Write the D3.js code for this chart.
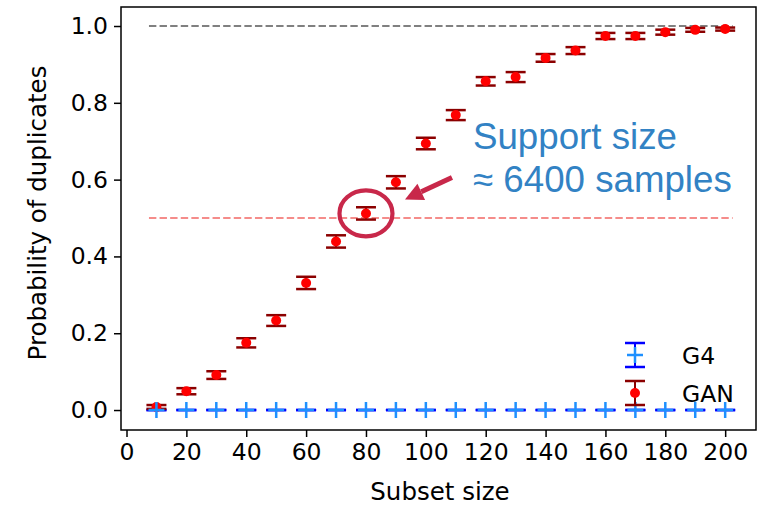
<!DOCTYPE html>
<html>
<head>
<meta charset="utf-8">
<script src="https://cdn.jsdelivr.net/npm/d3@7"></script>
<style>
    body { margin: 0; background: #fff; }
    text { font-family: "DejaVu Sans", sans-serif; }
</style>
</head>
<body>
<div id="chart"></div>
<script>
// subset sizes (x)
const subsetSizes = [10, 20, 30, 40, 50, 60, 70, 80, 90, 100, 110, 120, 130, 140, 150, 160, 170, 180, 190, 200];

// GAN: probability of duplicates + error
const ganProb = [0.008, 0.049, 0.091, 0.175, 0.233, 0.331, 0.439, 0.512, 0.593, 0.694, 0.768, 0.856, 0.867, 0.917, 0.936, 0.974, 0.974, 0.984, 0.990, 0.992];
const ganErr  = [0.005, 0.008, 0.010, 0.012, 0.014, 0.016, 0.016, 0.016, 0.016, 0.015, 0.013, 0.011, 0.013, 0.010, 0.009, 0.008, 0.008, 0.0065, 0.005, 0.004];

// G4: never any duplicates
const g4Prob = [0, 0, 0, 0, 0, 0, 0, 0, 0, 0, 0, 0, 0, 0, 0, 0, 0, 0, 0, 0];
const g4Err  = [0, 0, 0, 0, 0, 0, 0, 0, 0, 0, 0, 0, 0, 0, 0, 0, 0, 0, 0, 0];

const xTicks = [0, 20, 40, 60, 80, 100, 120, 140, 160, 180, 200];
const yTicks = [0.0, 0.2, 0.4, 0.6, 0.8, 1.0];

// reference lines: [y, x start, x end]
const refLines = [
    { y: 1.0, x0: 7.5, x1: 202.5, color: "#808080" },
    { y: 0.5, x0: 7.5, x1: 202.5, color: "#f58c8a" }
];

const annotationLines = ["Support size", "\u2248 6400 samples"];
const highlightSize = 80;

let margin = { top: 7, right: 13, bottom: 77, left: 121 };
let width = 769 - margin.left - margin.right;
let height = 507 - margin.top - margin.bottom;

let svg = d3.select("#chart")
    .append("svg")
    .attr("width", 769)
    .attr("height", 507)
    .append("g")
    .attr("transform", `translate(${margin.left}, ${margin.top})`);

let x = d3.scaleLinear().domain([-1.84, 210.3]).range([0, width]);
let y = d3.scaleLinear().domain([-0.052, 1.0495]).range([height, 0]);

let gan = subsetSizes.map((s, i) => ({ s, p: ganProb[i], e: ganErr[i] }));
let g4 = subsetSizes.map((s, i) => ({ s, p: g4Prob[i], e: g4Err[i] }));

// dashed reference lines
svg.selectAll(".ref")
    .data(refLines)
    .enter()
    .append("line")
    .attr("x1", d => x(d.x0))
    .attr("x2", d => x(d.x1))
    .attr("y1", d => y(d.y))
    .attr("y2", d => y(d.y))
    .attr("stroke", d => d.color)
    .attr("stroke-width", 2.2)
    .attr("stroke-dasharray", "7.4,3.2");

// error bar helper
function errorBars(data, cls, color, capHalf) {
    let g = svg.append("g").attr("class", cls);
    g.selectAll("line.v")
        .data(data).enter().append("line")
        .attr("x1", d => x(d.s)).attr("x2", d => x(d.s))
        .attr("y1", d => y(d.p - d.e)).attr("y2", d => y(d.p + d.e))
        .attr("stroke", color).attr("stroke-width", 2);
    [-1, 1].forEach(sign => {
        g.selectAll("line.c" + sign)
            .data(data).enter().append("line")
            .attr("x1", d => x(d.s) - capHalf).attr("x2", d => x(d.s) + capHalf)
            .attr("y1", d => y(d.p + sign * d.e)).attr("y2", d => y(d.p + sign * d.e))
            .attr("stroke", color).attr("stroke-width", 2.5);
    });
}

// G4 error bars + plus markers
errorBars(g4, "g4-err", "#0000ff", 10);
function plus(sel, cx, cy) {
    sel.append("path")
        .attr("d", `M${cx - 8},${cy}H${cx + 8}M${cx},${cy - 8}V${cy + 8}`)
        .attr("stroke", "#1e90ff").attr("stroke-width", 2.5).attr("fill", "none");
}

// GAN error bars + dots
errorBars(gan, "gan-err", "#8b0000", 10);
svg.selectAll(".gan-dot")
    .data(gan).enter().append("circle")
    .attr("class", "gan-dot")
    .attr("cx", d => x(d.s)).attr("cy", d => y(d.p))
    .attr("r", 5).attr("fill", "#ff0000");

g4.forEach(d => plus(svg, x(d.s), y(d.p)));

// axes
let xAxis = svg.append("g")
    .attr("transform", `translate(0, ${height})`)
    .call(d3.axisBottom(x).tickValues(xTicks).tickSize(7).tickPadding(6));
let yAxis = svg.append("g")
    .call(d3.axisLeft(y).tickValues(yTicks).tickFormat(d3.format(".1f")).tickSize(7).tickPadding(6));
[xAxis, yAxis].forEach(a => {
    a.select(".domain").remove();
    a.selectAll("line").attr("stroke", "#000").attr("stroke-width", 1.5);
    a.selectAll("text").attr("fill", "#000").style("font-size", "23.5px").style("font-family", "DejaVu Sans");
});

// frame
svg.append("rect")
    .attr("width", width).attr("height", height)
    .attr("fill", "none").attr("stroke", "#000").attr("stroke-width", 1.5);

// axis labels
svg.append("text")
    .attr("text-anchor", "middle")
    .attr("x", 440 - margin.left)
    .attr("y", height + 70)
    .style("font-size", "24.5px")
    .text("Subset size");

svg.append("text")
    .attr("text-anchor", "middle")
    .attr("transform", `translate(${46 - margin.left}, ${213 - margin.top}) rotate(-90)`)
    .style("font-size", "24.5px")
    .text("Probability of duplicates");

// legend
let lg = svg.append("g").attr("transform", `translate(${635 - margin.left}, 0)`);
let legendRows = [
    { label: "G4", cy: 355 - margin.top, color: "#0000ff" },
    { label: "GAN", cy: 393 - margin.top, color: "#8b0000" }
];
legendRows.forEach((r, i) => {
    lg.append("line").attr("x1", 0).attr("x2", 0).attr("y1", r.cy - 12).attr("y2", r.cy + 12)
        .attr("stroke", r.color).attr("stroke-width", 2);
    [-12, 12].forEach(o => lg.append("line")
        .attr("x1", -10).attr("x2", 10).attr("y1", r.cy + o).attr("y2", r.cy + o)
        .attr("stroke", r.color).attr("stroke-width", 2.5));
    if (i === 0) plus(lg, 0, r.cy);
    else lg.append("circle").attr("cx", 0).attr("cy", r.cy).attr("r", 5).attr("fill", "#ff0000");
    lg.append("text")
        .attr("x", 47).attr("y", r.cy + 9)
        .style("font-size", "23.5px")
        .text(r.label);
});

// annotation: circle around the 50% point, arrow and note
let hp = gan.find(d => d.s === highlightSize);
let hx = x(hp.s), hy = y(hp.p);
svg.append("ellipse")
    .attr("cx", hx).attr("cy", hy)
    .attr("rx", 26.5).attr("ry", 23)
    .attr("fill", "none").attr("stroke", "#c8284a").attr("stroke-width", 4.2);

let tail = [hx + 86, hy - 36], tip = [hx + 39, hy - 14];
let dx = tip[0] - tail[0], dy = tip[1] - tail[1], len = Math.hypot(dx, dy);
let ux = dx / len, uy = dy / len;
let base = [tip[0] - ux * 18, tip[1] - uy * 18];
svg.append("line")
    .attr("x1", tail[0]).attr("y1", tail[1]).attr("x2", base[0]).attr("y2", base[1])
    .attr("stroke", "#c8284a").attr("stroke-width", 5);
svg.append("polygon")
    .attr("points", [tip, [base[0] - uy * 9, base[1] + ux * 9], [base[0] + uy * 9, base[1] - ux * 9]].map(p => p.join(",")).join(" "))
    .attr("fill", "#c8284a");

svg.append("g").selectAll("text")
    .data(annotationLines).enter().append("text")
    .attr("x", 473 - margin.left)
    .attr("y", (d, i) => 149 - margin.top + i * 42.5)
    .style("font-family", "'Liberation Sans', Arial, sans-serif")
    .style("font-size", "36.7px")
    .attr("fill", "#3282c4")
    .text(d => d);
</script>
</body>
</html>
